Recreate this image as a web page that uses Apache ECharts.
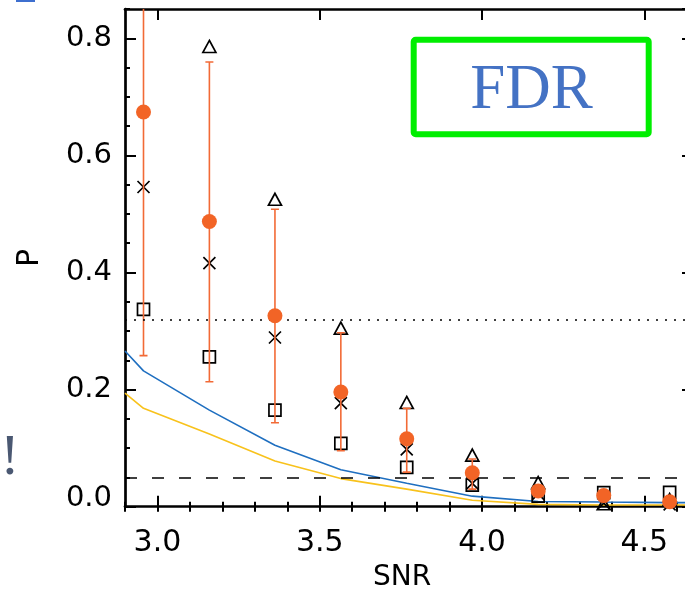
<!DOCTYPE html>
<html><head><meta charset="utf-8">
<script src="https://cdn.jsdelivr.net/npm/echarts@6/dist/echarts.min.js"></script>
<style>html,body{margin:0;padding:0;background:#fff}#c{width:685px;height:594px}</style>
</head><body><div id="c"></div>
<script>
// ---- data ----
const snr       = [2.957, 3.160, 3.362, 3.565, 3.768, 3.970, 4.173, 4.375, 4.578];
const pMean     = [0.674, 0.487, 0.326, 0.196, 0.116, 0.058, 0.027, 0.019, 0.0085];
const pLow      = [0.258, 0.2135, 0.1435, 0.0956, 0.059, 0.030, 0.020, 0.012, 0.003];
const pHigh     = [0.95, 0.7595, 0.508, 0.297, 0.168, 0.0815, 0.034, 0.024, 0.013];
const pCross    = [0.546, 0.416, 0.289, 0.177, 0.098, 0.040, 0.022, 0.006, 0.004];
const pSquare   = [0.337, 0.256, 0.165, 0.108, 0.067, 0.037, 0.018, 0.024, 0.0245];
const pTriangle = [null, 0.786, 0.525, 0.305, 0.178, 0.088, 0.041, 0.005, 0.012];
const curveX    = [2.9, 2.957, 3.160, 3.362, 3.565, 3.768, 3.970, 4.173, 4.375, 4.578, 4.65];
const curveBlue = [0.266, 0.232, 0.165, 0.105, 0.063, 0.040, 0.018, 0.009, 0.008, 0.007, 0.007];
const curveGold = [0.194, 0.168, 0.124, 0.078, 0.048, 0.030, 0.011, 0.004, 0.003, 0.003, 0.003];
const dashedLevel = 0.05;
const dottedLevel = 0.32;
const xMajorTicks = [3.0, 3.5, 4.0, 4.5];
const xRange = [2.9, 4.65];
const yRange = [0, 0.85];
const boxLabel = 'FDR';

// ---- chart ----
const chart = echarts.init(document.getElementById('c'), null, {renderer: 'canvas'});
const FONT = 'DejaVu Sans';
const axLine = {show: true, onZero: false, lineStyle: {color: '#000', width: 2.7}};
const gridPos = {left: 125, top: 9, width: 568, height: 497.7, containLabel: false, outerBoundsMode: 'none'};
const pair = (xs, ys) => xs.map((x, i) => [x, ys[i] == null ? '-' : ys[i]]);

const xMajorBase = {
  type: 'value', min: xRange[0], max: xRange[1], gridIndex: 0,
  axisLine: axLine, splitLine: {show: false},
  axisTick: {show: true, inside: true, length: 11, lineStyle: {color: '#000', width: 2}, customValues: xMajorTicks}
};
const xMinorBase = {
  type: 'value', min: xRange[0], max: xRange[1], interval: 0.1, gridIndex: 1,
  axisLine: {show: false}, splitLine: {show: false}, axisLabel: {show: false},
  axisTick: {show: true, inside: true, length: 5, lineStyle: {color: '#000', width: 2}}
};
const yMajorBase = {
  type: 'value', min: yRange[0], max: yRange[1], interval: 0.2, gridIndex: 0,
  axisLine: axLine, splitLine: {show: false},
  axisTick: {show: true, inside: true, length: 11, lineStyle: {color: '#000', width: 2}}
};
const yMinorBase = {
  type: 'value', min: yRange[0], max: yRange[1], interval: 0.05, gridIndex: 1,
  axisLine: {show: false}, splitLine: {show: false}, axisLabel: {show: false},
  axisTick: {show: true, inside: true, length: 5, lineStyle: {color: '#000', width: 2}}
};

const option = {
  animation: false,
  backgroundColor: '#fff',
  grid: [Object.assign({}, gridPos), Object.assign({}, gridPos)],
  xAxis: [
    Object.assign({}, xMajorBase, {
      position: 'bottom',
      axisLabel: {show: true, customValues: xMajorTicks, formatter: v => v.toFixed(1),
                  fontFamily: FONT, fontSize: 30, color: '#000', margin: 22},
      name: 'SNR', nameLocation: 'middle', nameGap: 57,
      nameTextStyle: {fontFamily: FONT, fontSize: 28, color: '#000', padding: [0, 14, 0, 0]}
    }),
    Object.assign({}, xMajorBase, {position: 'top', axisLabel: {show: false}}),
    Object.assign({}, xMinorBase, {position: 'bottom'}),
    Object.assign({}, xMinorBase, {position: 'top'})
  ],
  yAxis: [
    Object.assign({}, yMajorBase, {
      position: 'left',
      axisLabel: {show: true, showMaxLabel: false,
                  formatter: v => v === 0 ? '{z|' + v.toFixed(1) + '}' : v.toFixed(1),
                  rich: {z: {fontFamily: FONT, fontSize: 29, color: '#000', padding: [0, 0, 16, 0]}},
                  fontFamily: FONT, fontSize: 29, color: '#000', margin: 13},
      name: 'P', nameLocation: 'middle', nameGap: 80, nameRotate: 90,
      nameTextStyle: {fontFamily: FONT, fontSize: 30, color: '#000'}
    }),
    Object.assign({}, yMajorBase, {position: 'right', axisLabel: {show: false}}),
    Object.assign({}, yMinorBase, {position: 'left'}),
    Object.assign({}, yMinorBase, {position: 'right'})
  ],
  series: [
    {
      type: 'line', xAxisIndex: 0, yAxisIndex: 0, data: pair(curveX, curveBlue),
      symbol: 'none', lineStyle: {color: '#1f6fc0', width: 1.6}, z: 2,
      markLine: {
        silent: true, symbol: 'none', label: {show: false},
        data: [
          {yAxis: dashedLevel, lineStyle: {color: '#000', width: 1.5, type: [12, 15]}},
          {yAxis: dottedLevel, lineStyle: {color: '#000', width: 1.5, type: [2, 7]}}
        ]
      }
    },
    {
      type: 'line', xAxisIndex: 0, yAxisIndex: 0, data: pair(curveX, curveGold),
      symbol: 'none', lineStyle: {color: '#f8c21c', width: 1.6}, z: 2
    },
    {
      type: 'scatter', xAxisIndex: 0, yAxisIndex: 0, data: pair(snr, pSquare),
      symbol: 'rect', symbolSize: 12, z: 3,
      itemStyle: {color: 'rgba(0,0,0,0)', borderColor: '#000', borderWidth: 1.7, opacity: 1}
    },
    {
      type: 'scatter', xAxisIndex: 0, yAxisIndex: 0, data: pair(snr, pCross),
      symbol: 'path://M0,0L10,10M10,0L0,10', symbolSize: 12, z: 3,
      itemStyle: {color: 'rgba(0,0,0,0)', borderColor: '#000', borderWidth: 1.7, opacity: 1}
    },
    {
      type: 'scatter', xAxisIndex: 0, yAxisIndex: 0, data: pair(snr, pTriangle),
      symbol: 'triangle', symbolSize: [13, 12], z: 3,
      itemStyle: {color: 'rgba(0,0,0,0)', borderColor: '#000', borderWidth: 1.7, opacity: 1}
    },
    {
      type: 'custom', xAxisIndex: 0, yAxisIndex: 0, clip: true, z: 4,
      data: snr.map((x, i) => [x, pLow[i], pHigh[i]]),
      renderItem: function (params, api) {
        const x = api.value(0);
        const lo = api.coord([x, api.value(1)]);
        const hi = api.coord([x, api.value(2)]);
        const w = 4;
        const style = {stroke: '#f26a36', lineWidth: 1.6};
        return {type: 'group', children: [
          {type: 'line', shape: {x1: lo[0], y1: lo[1], x2: hi[0], y2: hi[1]}, style: style},
          {type: 'line', shape: {x1: lo[0] - w, y1: lo[1], x2: lo[0] + w, y2: lo[1]}, style: style},
          {type: 'line', shape: {x1: hi[0] - w, y1: hi[1], x2: hi[0] + w, y2: hi[1]}, style: style}
        ]};
      }
    },
    {
      type: 'scatter', xAxisIndex: 0, yAxisIndex: 0, data: pair(snr, pMean),
      symbol: 'circle', symbolSize: 15, z: 5,
      itemStyle: {color: '#f26426', opacity: 1}
    }
  ],
  graphic: [
    {type: 'rect', shape: {x: 413.7, y: 39.7, width: 235, height: 94.6, r: 2},
     style: {fill: '#fff', stroke: '#00ee00', lineWidth: 6}, z: 10},
    {type: 'text', x: 531.5, y: 123, z: 11,
     style: {text: boxLabel, fontFamily: 'Liberation Serif', fontSize: 63, fill: '#4472c4',
             align: 'center', verticalAlign: 'bottom'}},
    {type: 'text', x: 10, y: 488, z: 11,
     style: {text: '!', fontFamily: 'Liberation Serif', fontSize: 58, fill: '#4a5872',
             align: 'center', verticalAlign: 'bottom'}},
    {type: 'rect', shape: {x: 16, y: 0, width: 19, height: 2}, style: {fill: '#3e6fcf'}, z: 11}
  ]
};
chart.setOption(option);
</script>
</body></html>
